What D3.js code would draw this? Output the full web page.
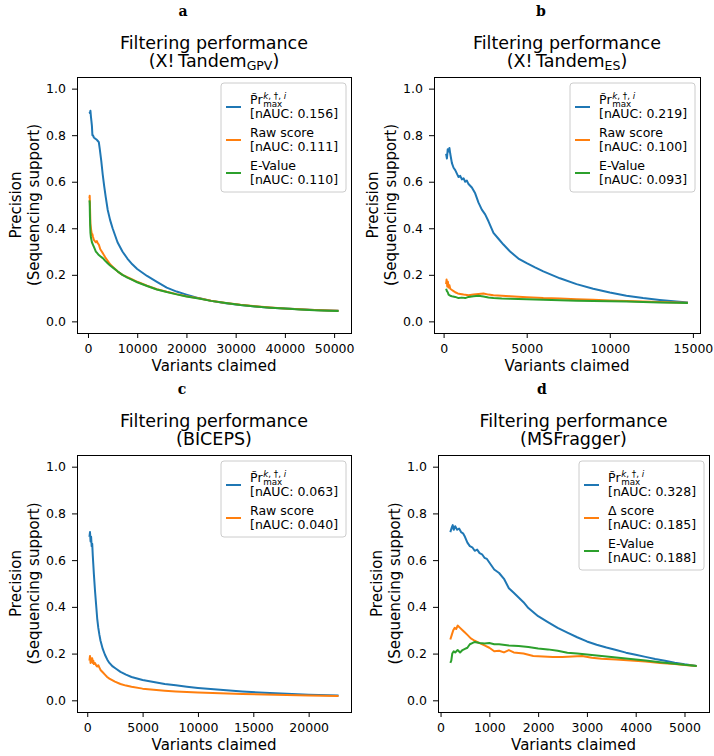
<!DOCTYPE html>
<html>
<head>
<meta charset="utf-8">
<script src="https://cdn.jsdelivr.net/npm/d3@7"></script>
<style>
  body { margin: 0; background: #fff; }
  text { font-family: "DejaVu Sans", sans-serif; fill: #000; }
</style>
</head>
<body>
<script>
// ---- data: [variants claimed, precision] ----
const gpvRank = [[300,0.90],[400,0.895],[500,0.905],[600,0.88],[700,0.86],[800,0.84],[900,0.80],[1000,0.80],[1200,0.79],[1500,0.785],[1800,0.78],[2000,0.775],[2200,0.77],[2400,0.74],[2700,0.69],[3000,0.63],[3300,0.58],[3600,0.535],[4000,0.48],[4500,0.435],[5000,0.40],[5500,0.37],[6000,0.34],[7000,0.30],[8000,0.27],[9000,0.245],[10000,0.225],[11000,0.21],[12000,0.195],[14000,0.17],[16000,0.145],[18000,0.128],[20000,0.115],[22500,0.10],[25000,0.088],[28000,0.078],[31000,0.07],[34000,0.064],[37000,0.059],[40000,0.055],[43000,0.052],[46000,0.049],[49000,0.047],[50900,0.046]];
const gpvRaw = [[300,0.53],[350,0.54],[400,0.50],[450,0.46],[500,0.42],[600,0.40],[700,0.385],[800,0.37],[900,0.375],[1000,0.365],[1200,0.35],[1400,0.345],[1600,0.34],[1800,0.345],[2000,0.335],[2200,0.33],[2500,0.31],[2800,0.30],[3100,0.29],[3500,0.275],[4000,0.26],[4500,0.245],[5000,0.235],[6000,0.215],[7000,0.20],[8000,0.19],[9000,0.18],[10000,0.17],[12000,0.153],[14000,0.138],[16000,0.127],[18000,0.117],[20000,0.108],[22500,0.099],[25000,0.089],[28000,0.079],[31000,0.071],[34000,0.065],[37000,0.06],[40000,0.055],[43000,0.052],[46000,0.049],[49000,0.047],[50900,0.046]];
const gpvEvalue = [[300,0.52],[350,0.51],[400,0.45],[450,0.41],[500,0.38],[600,0.36],[700,0.35],[800,0.34],[1000,0.33],[1200,0.32],[1400,0.31],[1600,0.30],[1800,0.295],[2000,0.29],[2200,0.285],[2500,0.28],[2800,0.275],[3100,0.27],[3500,0.26],[4000,0.25],[4500,0.24],[5000,0.232],[6000,0.215],[7000,0.20],[8000,0.188],[9000,0.178],[10000,0.168],[12000,0.152],[14000,0.137],[16000,0.126],[18000,0.116],[20000,0.107],[22500,0.098],[25000,0.088],[28000,0.079],[31000,0.07],[34000,0.064],[37000,0.059],[40000,0.055],[43000,0.051],[46000,0.048],[49000,0.046],[50900,0.045]];

const esRank = [[150,0.72],[200,0.70],[250,0.74],[300,0.73],[350,0.745],[400,0.72],[450,0.70],[500,0.68],[600,0.66],[700,0.65],[800,0.635],[900,0.62],[1000,0.625],[1100,0.61],[1200,0.615],[1300,0.60],[1400,0.605],[1500,0.59],[1700,0.575],[1900,0.55],[2100,0.51],[2300,0.48],[2500,0.46],[2700,0.43],[3000,0.38],[3300,0.355],[3600,0.33],[4000,0.30],[4500,0.27],[5000,0.25],[5500,0.232],[6000,0.215],[7000,0.185],[8000,0.16],[9000,0.14],[10000,0.124],[11000,0.11],[12000,0.10],[13000,0.092],[14000,0.085],[14700,0.081]];
const esRaw = [[150,0.16],[180,0.18],[220,0.15],[260,0.17],[300,0.145],[350,0.155],[400,0.14],[500,0.135],[600,0.13],[700,0.125],[850,0.12],[1000,0.118],[1200,0.115],[1500,0.112],[1800,0.115],[2100,0.118],[2400,0.12],[2700,0.115],[3000,0.112],[3500,0.11],[4000,0.108],[5000,0.104],[6000,0.10],[7000,0.098],[8000,0.095],[9000,0.093],[10000,0.09],[11000,0.088],[12000,0.085],[13000,0.083],[14000,0.081],[14700,0.08]];
const esEvalue = [[150,0.14],[200,0.13],[250,0.125],[300,0.115],[400,0.11],[500,0.108],[700,0.105],[900,0.10],[1100,0.102],[1300,0.10],[1500,0.105],[1800,0.108],[2100,0.11],[2400,0.107],[2700,0.103],[3000,0.10],[3500,0.098],[4000,0.097],[5000,0.095],[6000,0.093],[7000,0.091],[8000,0.089],[9000,0.088],[10000,0.086],[11000,0.085],[12000,0.083],[13000,0.081],[14000,0.08],[14700,0.079]];

const bicepsRank = [[200,0.70],[250,0.72],[300,0.68],[350,0.70],[400,0.66],[450,0.67],[500,0.62],[550,0.58],[600,0.54],[700,0.47],[800,0.41],[900,0.35],[1000,0.31],[1100,0.28],[1200,0.255],[1400,0.22],[1600,0.195],[1800,0.175],[2000,0.16],[2300,0.145],[2600,0.135],[3000,0.122],[3500,0.11],[4000,0.10],[5000,0.087],[6000,0.078],[7000,0.07],[8000,0.064],[9000,0.058],[10000,0.053],[12000,0.045],[14000,0.038],[16000,0.032],[18000,0.028],[20000,0.024],[22700,0.021]];
const bicepsRaw = [[200,0.17],[250,0.19],[300,0.16],[350,0.18],[400,0.165],[450,0.18],[500,0.16],[550,0.17],[600,0.155],[700,0.16],[800,0.15],[900,0.145],[1000,0.15],[1100,0.14],[1200,0.13],[1400,0.12],[1600,0.11],[1800,0.10],[2000,0.093],[2500,0.08],[3000,0.07],[3500,0.063],[4000,0.058],[5000,0.05],[6000,0.045],[7000,0.041],[8000,0.038],[10000,0.033],[12000,0.03],[14000,0.027],[16000,0.025],[18000,0.023],[20000,0.021],[22700,0.019]];

const msfRank = [[200,0.72],[230,0.74],[250,0.75],[270,0.73],[300,0.745],[340,0.73],[380,0.735],[420,0.72],[460,0.715],[500,0.70],[550,0.675],[600,0.66],[650,0.655],[700,0.64],[750,0.645],[800,0.63],[850,0.625],[900,0.61],[950,0.605],[1000,0.59],[1100,0.56],[1200,0.545],[1300,0.52],[1400,0.48],[1500,0.46],[1600,0.44],[1700,0.42],[1800,0.395],[2000,0.36],[2200,0.335],[2400,0.31],[2600,0.29],[2800,0.27],[3000,0.252],[3200,0.238],[3400,0.226],[3600,0.215],[3800,0.204],[4000,0.195],[4200,0.186],[4400,0.177],[4600,0.169],[4800,0.161],[5000,0.154],[5250,0.147]];
const msfDelta = [[200,0.26],[230,0.28],[260,0.30],[290,0.31],[320,0.305],[350,0.32],[400,0.31],[450,0.30],[500,0.29],[550,0.28],[620,0.265],[700,0.255],[800,0.245],[900,0.235],[1000,0.225],[1100,0.21],[1200,0.212],[1300,0.205],[1400,0.215],[1500,0.205],[1700,0.20],[1900,0.19],[2100,0.188],[2300,0.185],[2500,0.185],[2700,0.188],[2900,0.19],[3100,0.182],[3300,0.178],[3600,0.175],[3900,0.17],[4200,0.166],[4500,0.16],[4800,0.155],[5000,0.151],[5250,0.147]];
const msfEvalue = [[200,0.16],[220,0.17],[240,0.20],[270,0.21],[300,0.205],[350,0.215],[400,0.205],[450,0.215],[500,0.22],[550,0.225],[600,0.24],[650,0.245],[700,0.25],[800,0.245],[900,0.243],[1000,0.245],[1100,0.24],[1200,0.24],[1400,0.235],[1600,0.232],[1800,0.228],[2000,0.222],[2200,0.218],[2400,0.212],[2600,0.204],[2800,0.20],[3000,0.196],[3300,0.19],[3600,0.183],[3900,0.177],[4200,0.17],[4500,0.163],[4800,0.157],[5000,0.152],[5250,0.147]];

// labels and ticks
const panelTags = ["a", "b", "c", "d"];
const panelSources = ["X!\u2009Tandem", "X!\u2009Tandem", "BICEPS", "MSFragger"];
const panelSubs = ["GPV", "ES", "", ""];
const seriesNames = [["Pr", "Raw score", "E-Value"], ["Pr", "Raw score", "E-Value"], ["Pr", "Raw score"], ["Pr", "\u0394 score", "E-Value"]];
const seriesAuc = [["0.156", "0.111", "0.110"], ["0.219", "0.100", "0.093"], ["0.063", "0.040"], ["0.328", "0.185", "0.188"]];
const xTicks = [[0, 10000, 20000, 30000, 40000, 50000], [0, 5000, 10000, 15000], [0, 5000, 10000, 15000, 20000], [0, 1000, 2000, 3000, 4000, 5000]];
const yTicks = [0, 0.2, 0.4, 0.6, 0.8, 1.0];
const seriesData = [[gpvRank, gpvRaw, gpvEvalue], [esRank, esRaw, esEvalue], [bicepsRank, bicepsRaw], [msfRank, msfDelta, msfEvalue]];

const colors = ["#1f77b4", "#ff7f0e", "#2ca02c"];

// plot frames (pixel boxes of each axes)
const frames = [
  { x0: 77, x1: 351, y0: 77, y1: 333, tagX: 183 },
  { x0: 434, x1: 700, y0: 77, y1: 333, tagX: 541 },
  { x0: 77, x1: 351, y0: 455, y1: 712, tagX: 182 },
  { x0: 438, x1: 709, y0: 455, y1: 712, tagX: 542 }
];

const svg = d3.select("body").append("svg").attr("width", 714).attr("height", 756);

frames.forEach((f, k) => {
  const g = svg.append("g");
  const all = seriesData[k].flat();
  const ext = d3.extent(all, d => d[0]);
  const pad = (ext[1] - ext[0]) * 0.05;
  const x = d3.scaleLinear().domain([ext[0] - pad, ext[1] + pad]).range([f.x0, f.x1]);
  const y = d3.scaleLinear().domain([-0.05, 1.05]).range([f.y1, f.y0]);
  const cx = (f.x0 + f.x1) / 2;

  // panel tag
  g.append("text").attr("x", f.tagX).attr("y", f.y0 - 61)
    .attr("text-anchor", "middle")
    .style("font-family", "'DejaVu Serif', serif").style("font-weight", "bold").style("font-size", "14px")
    .text(panelTags[k]);

  // title
  g.append("text").attr("x", cx).attr("y", f.y0 - 28).attr("text-anchor", "middle")
    .style("font-size", "17.5px").text("Filtering performance");
  const t2 = g.append("text").attr("x", cx).attr("y", f.y0 - 10).attr("text-anchor", "middle")
    .style("font-size", "17.5px");
  t2.append("tspan").text("(" + panelSources[k]);
  if (panelSubs[k]) {
    t2.append("tspan").attr("dy", 3).style("font-size", "12.5px").text(panelSubs[k]);
    t2.append("tspan").attr("dy", -3).text(")");
  } else {
    t2.append("tspan").text(")");
  }

  // lines
  const line = d3.line().x(d => x(d[0])).y(d => y(d[1]));
  seriesData[k].forEach((s, i) => {
    g.append("path").datum(s).attr("d", line)
      .attr("fill", "none").attr("stroke", colors[i]).attr("stroke-width", 2)
      .attr("stroke-linejoin", "round");
  });

  // axes
  const ax = g.append("g").attr("transform", `translate(0,${f.y1})`)
    .call(d3.axisBottom(x).tickValues(xTicks[k]).tickFormat(d3.format("d")).tickSize(5).tickPadding(6));
  const ay = g.append("g").attr("transform", `translate(${f.x0},0)`)
    .call(d3.axisLeft(y).tickValues(yTicks).tickFormat(d3.format(".1f")).tickSize(5).tickPadding(6));
  [ax, ay].forEach(a => {
    a.select(".domain").remove();
    a.attr("font-family", null).attr("font-size", null);
    a.selectAll("text").style("font-size", "12.5px").attr("fill", "#000");
    a.selectAll("line").attr("stroke", "#000");
  });

  g.append("rect").attr("x", f.x0 + 0.5).attr("y", f.y0 + 0.5)
    .attr("width", f.x1 - f.x0).attr("height", f.y1 - f.y0)
    .attr("fill", "none").attr("stroke", "#000").attr("stroke-width", 1);

  // axis labels
  g.append("text").attr("x", cx).attr("y", f.y1 + 38).attr("text-anchor", "middle")
    .style("font-size", "15px").text("Variants claimed");
  const cy = (f.y0 + f.y1) / 2;
  g.append("text").attr("transform", `translate(${f.x0 - 56},${cy}) rotate(-90)`)
    .attr("text-anchor", "middle").style("font-size", "15px").text("Precision");
  g.append("text").attr("transform", `translate(${f.x0 - 38},${cy}) rotate(-90)`)
    .attr("text-anchor", "middle").style("font-size", "15px").text("(Sequencing support)");

  // legend
  const n = seriesNames[k].length;
  const bw = 125, bx = f.x1 - 5 - bw, by = f.y0 + 6;
  g.append("rect").attr("x", bx).attr("y", by).attr("width", bw).attr("height", n * 33 + 10)
    .attr("rx", 3).attr("fill", "#fff").attr("fill-opacity", 0.8)
    .attr("stroke", "#cccccc").attr("stroke-width", 1);
  seriesNames[k].forEach((nm, i) => {
    const base = by + 21 + i * 33;
    const tx = bx + 29;
    g.append("line").attr("x1", bx + 5).attr("x2", bx + 20)
      .attr("y1", base + 3).attr("y2", base + 3)
      .attr("stroke", colors[i]).attr("stroke-width", 2);
    if (nm === "Pr") {
      // tilde-Pr with superscript k,†,i and subscript max
      const m = g.append("text").attr("x", tx).attr("y", base).style("font-size", "12.5px");
      const pr = m.append("tspan").text("P\u0303r");
      const w = pr.node().getComputedTextLength();
      m.append("tspan").attr("x", tx + w + 0.5).attr("dy", -5.5).style("font-size", "8.75px")
        .style("font-style", "italic").text("k");
      m.append("tspan").style("font-size", "8.75px").text(", \u2020, ");
      m.append("tspan").style("font-size", "8.75px").style("font-style", "italic").text("i");
      m.append("tspan").attr("x", tx + w + 0.5).attr("dy", 8.5).style("font-size", "8.75px").text("max");
    } else {
      g.append("text").attr("x", tx).attr("y", base).style("font-size", "12.5px").text(nm);
    }
    g.append("text").attr("x", tx).attr("y", base + 13.5).style("font-size", "12.5px")
      .text(`[nAUC: ${seriesAuc[k][i]}]`);
  });
});
</script>
</body>
</html>
